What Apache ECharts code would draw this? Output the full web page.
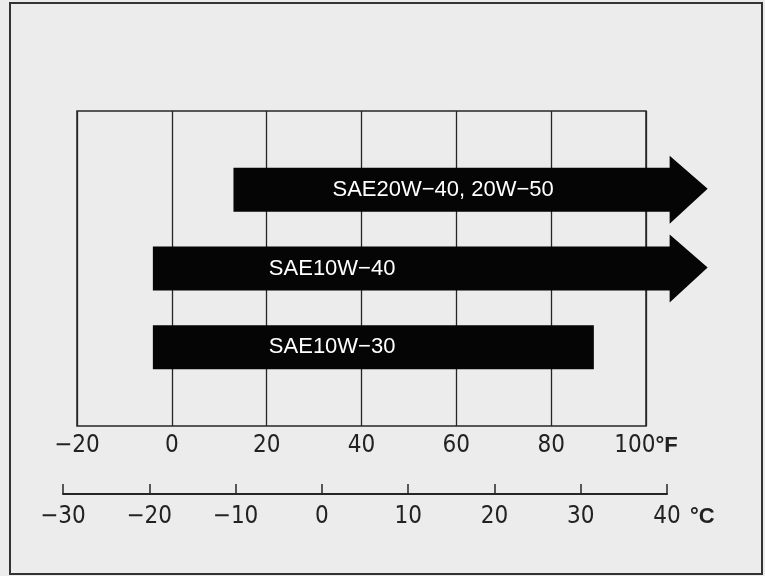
<!DOCTYPE html>
<html>
<head>
<meta charset="utf-8">
<script src="https://cdn.jsdelivr.net/npm/echarts@6/dist/echarts.min.js"></script>
<style>
html, body { margin: 0; padding: 0; background: #ececec; }
#chart { width: 765px; height: 576px; }
</style>
</head>
<body>
<div id="chart"></div>
<script>
// oil grades and the temperature range each one covers (°F)
const oilNames = ['SAE20W\u221240, 20W\u221250', 'SAE10W\u221240', 'SAE10W\u221230'];
const fromF = [13, -4, -4];
const toF = [113, 113, 89];          // arrow tip for the open-ended ones
const openEnd = [true, true, false];
// tick labels of the two scales
const fTicks = [-20, 0, 20, 40, 60, 80, 100];
const cTicks = [-30, -20, -10, 0, 10, 20, 30, 40];

const ink = '#262626';
const numFont = "'Liberation Sans Narrow', 'DejaVu Sans Condensed', sans-serif";
const labelShift = [99, 116, 116];   // where the white text starts inside each bar

function minus(v) {
	return String(v).replace('-', '\u2212');
}

let chart = echarts.init(document.getElementById('chart'));
let option = {
	backgroundColor: '#ececec',
	animation: false,
	grid: [
		{ left: 77, right: 119, top: 111, bottom: 150, show: true, borderColor: ink, borderWidth: 1.5 },
		{ left: 63, right: 98, top: 484, height: 10 }
	],
	xAxis: [
		{
			type: 'value',
			gridIndex: 0,
			min: fTicks[0],
			max: fTicks[fTicks.length - 1],
			interval: fTicks[1] - fTicks[0],
			axisLine: { show: false },
			axisTick: { show: false },
			splitLine: { show: true, lineStyle: { color: ink, width: 1.3 } },
			axisLabel: {
				margin: 8,
				color: '#222',
				fontSize: 24,
				fontFamily: numFont,
				formatter: v => v === 100 ? '100{u|°F}' : minus(v),
				rich: {
					u: { fontFamily: 'Liberation Sans', fontWeight: 'bold', fontSize: 22, color: '#222' }
				}
			}
		},
		{
			type: 'value',
			gridIndex: 1,
			position: 'bottom',
			min: cTicks[0],
			max: cTicks[cTicks.length - 1],
			interval: cTicks[1] - cTicks[0],
			axisLine: { show: true, lineStyle: { color: ink, width: 2 } },
			axisTick: { show: true, inside: true, length: 10, lineStyle: { color: ink, width: 1.5 } },
			splitLine: { show: false },
			axisLabel: {
				margin: 11,
				color: '#222',
				fontSize: 24,
				fontFamily: numFont,
				formatter: v => v === 40 ? '{s|}40{u|°C}' : minus(v),
				rich: {
					s: { width: 34 },
					u: { width: 34, align: 'right', fontFamily: 'Liberation Sans', fontWeight: 'bold', fontSize: 22, color: '#222' }
				}
			}
		}
	],
	yAxis: [
		{ type: 'value', gridIndex: 0, min: 0, max: 4, inverse: true, show: false },
		{ type: 'value', gridIndex: 1, min: 0, max: 1, show: false }
	],
	graphic: [
		{
			type: 'rect',
			shape: { x: 10, y: 3, width: 752, height: 571 },
			style: { fill: 'none', stroke: '#333', lineWidth: 2 },
			z: 100
		}
	],
	series: [
		{
			type: 'custom',
			xAxisIndex: 0,
			yAxisIndex: 0,
			clip: false,
			renderItem: (params, api) => {
				const i = params.dataIndex;
				const y = api.value(2);
				const a = api.coord([api.value(0), y]);
				const b = api.coord([api.value(1), y]);
				const h = 44, headLen = 38, headH = 68;
				let shape;
				if (api.value(3)) {
					const e = b[0] - headLen;
					shape = {
						type: 'polygon',
						shape: {
							points: [
								[a[0], a[1] - h / 2], [e, a[1] - h / 2], [e, a[1] - headH / 2],
								[b[0], a[1] - 1], [e, a[1] + headH / 2], [e, a[1] + h / 2],
								[a[0], a[1] + h / 2]
							]
						},
						style: { fill: '#050505' }
					};
				} else {
					shape = {
						type: 'rect',
						shape: { x: a[0], y: a[1] - h / 2, width: b[0] - a[0], height: h },
						style: { fill: '#050505' }
					};
				}
				return {
					type: 'group',
					children: [shape, {
						type: 'text',
						x: a[0] + labelShift[i],
						y: a[1],
						style: {
							text: oilNames[i],
							fill: '#fff',
							fontSize: 22,
							fontFamily: 'Liberation Sans',
							verticalAlign: 'middle',
							align: 'left'
						}
					}]
				};
			},
			data: oilNames.map((n, i) => [fromF[i], toF[i], i + 1, openEnd[i] ? 1 : 0])
		}
	]
};
chart.setOption(option);
</script>
</body>
</html>
